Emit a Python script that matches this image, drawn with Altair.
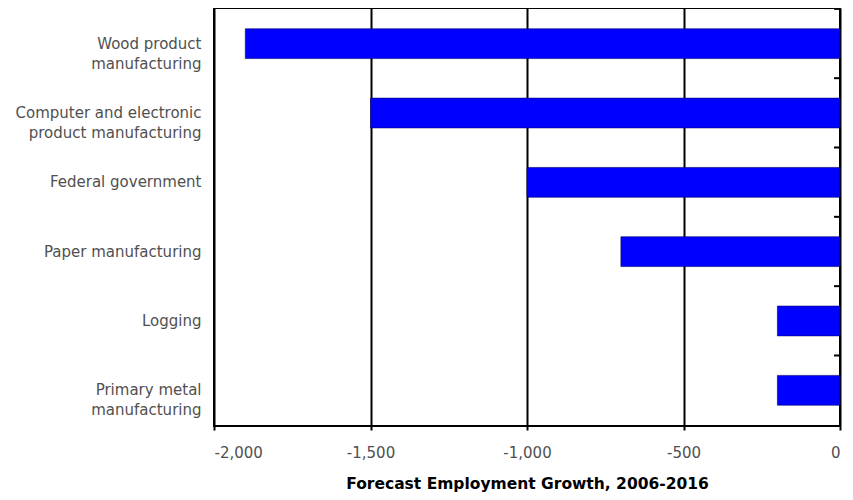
import altair as alt
import pandas as pd

categories = [
    "Wood product|manufacturing",
    "Computer and electronic|product manufacturing",
    "Federal government",
    "Paper manufacturing",
    "Logging",
    "Primary metal|manufacturing",
]
values = [-1900, -1500, -1000, -700, -200, -200]
x_ticks = [-2000, -1500, -1000, -500, 0]

df = pd.DataFrame({"cat": categories, "val": values})

FONT = "DejaVu Sans"
W = 626
H = 418

yenc = alt.Y(
    "cat:N",
    sort=None,
    title=None,
    scale=alt.Scale(paddingInner=0.57, paddingOuter=0.3),
    axis=alt.Axis(
        labelExpr="split(datum.label, '|')",
        labelFont=FONT,
        labelFontSize=15,
        labelColor="#505050",
        labelPadding=13,
        labelLineHeight=20,
        ticks=False,
        domain=False,
        grid=False,
        labelLimit=250,
    ),
)

bars = alt.Chart(df).mark_bar(color="#0000FF", stroke="#000066", strokeWidth=0.6).encode(
    x=alt.X(
        "val:Q",
        scale=alt.Scale(domain=[-2000, 0], nice=False),
        title="Forecast Employment Growth, 2006-2016",
        axis=alt.Axis(
            values=x_ticks,
            labelExpr="(datum.value < 0 ? '-' : '') + format(abs(datum.value), ',')",
            grid=True,
            gridColor="black",
            gridWidth=2,
            gridOpacity=1,
            domain=False,
            ticks=True,
            tickColor="black",
            tickWidth=2,
            tickSize=4,
            labelFont=FONT,
            labelFontSize=15,
            labelColor="#505050",
            labelPadding=15,
            titleFont=FONT,
            titleFontSize=15.5,
            titleFontWeight="bold",
            titleColor="black",
            titlePadding=16,
        ),
    ),
    y=yenc,
)

ticks = alt.Chart(df).mark_rule(color="black", strokeWidth=2, yOffset=-H / 12).encode(
    y=alt.Y("cat:N", sort=None),
    x=alt.value(W - 6),
    x2=alt.value(W),
)

chart = (
    alt.layer(bars, ticks)
    .properties(
        width=W,
        height=H,
        autosize=alt.AutoSizeParams(type="none"),
        padding={"left": 206, "top": 0, "right": 5, "bottom": 66},
    )
    .configure(background="white")
    .configure_view(stroke="black", strokeWidth=2)
)

chart.save("out.html", embed_options={"renderer": "svg", "actions": False})
